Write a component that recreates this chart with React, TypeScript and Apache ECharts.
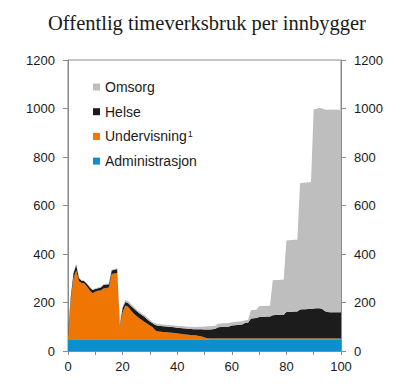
import React, { useEffect, useRef } from "react";
import * as echarts from "echarts";

const ages: string[] = [
  "0", "1", "2", "3", "4", "5", "6", "7", "8", "9", "10", "11", "12", "13", "14", "15", "16", "17", "18", "19",
  "20", "21", "22", "23", "24", "25", "26", "27", "28", "29", "30", "31", "32", "33", "34", "35", "36", "37", "38", "39",
  "40", "41", "42", "43", "44", "45", "46", "47", "48", "49", "50", "51", "52", "53", "54", "55", "56", "57", "58", "59",
  "60", "61", "62", "63", "64", "65", "66", "67", "68", "69", "70", "71", "72", "73", "74", "75", "76", "77", "78", "79",
  "80", "81", "82", "83", "84", "85", "86", "87", "88", "89", "90", "91", "92", "93", "94", "95", "96", "97", "98", "99", "100",
];

const administrasjon: number[] = [
  48, 48, 48, 48, 48, 48, 48, 48, 48, 48, 48, 48, 48, 48, 48, 48, 48, 48, 48, 48,
  48, 48, 48, 48, 48, 48, 48, 48, 48, 48, 48, 48, 48, 48, 48, 48, 48, 48, 48, 48,
  48, 48, 48, 48, 48, 48, 48, 48, 48, 48, 48, 48, 48, 48, 48, 48, 48, 48, 48, 48,
  48, 48, 48, 48, 48, 48, 48, 48, 48, 48, 48, 48, 48, 48, 48, 48, 48, 48, 48, 48,
  48, 48, 48, 48, 48, 48, 48, 48, 48, 48, 48, 48, 48, 48, 48, 48, 48, 48, 48, 48, 48,
];

const undervisning: number[] = [
  10, 157, 252, 284, 240, 232, 230, 217, 202, 190, 196, 200, 202, 210, 212, 214, 270, 272, 274, 52,
  112, 140, 134, 120, 107, 97, 88, 80, 72, 64, 57, 50, 37, 32, 31, 30, 29, 28, 27, 26,
  24, 23, 22, 20, 19, 18, 17, 16, 14, 12, 8, 5, 4, 4, 4, 4, 4, 4, 4, 4,
  4, 4, 4, 4, 4, 4, 4, 4, 4, 4, 4, 4, 4, 4, 4, 4, 4, 4, 4, 4,
  4, 4, 4, 4, 4, 4, 4, 4, 4, 4, 4, 4, 4, 4, 4, 4, 4, 4, 4, 4, 4,
];

const helse: number[] = [
  14, 17, 20, 24, 12, 10, 10, 11, 12, 14, 12, 11, 12, 14, 14, 13, 14, 15, 16, 7,
  18, 14, 16, 19, 21, 21, 21, 20, 21, 19, 17, 16, 22, 24, 24, 24, 24, 24, 24, 24,
  24, 24, 24, 25, 25, 25, 25, 26, 28, 30, 33, 36, 37, 38, 40, 46, 47, 48, 48, 49,
  53, 54, 55, 56, 58, 64, 66, 82, 83, 84, 88, 89, 89, 90, 90, 95, 96, 96, 97, 97,
  109, 110, 110, 111, 111, 119, 120, 120, 121, 121, 123, 124, 124, 122, 113, 109, 108, 108, 108, 108, 108,
];

const omsorg: number[] = [
  3, 3, 3, 3, 3, 3, 3, 3, 3, 3, 3, 3, 3, 3, 3, 3, 3, 3, 3, 3,
  6, 8, 8, 8, 7, 7, 7, 7, 7, 7, 7, 6, 7, 7, 7, 7, 7, 7, 7, 7,
  8, 8, 8, 8, 8, 9, 9, 9, 10, 10, 12, 13, 13, 13, 13, 14, 14, 14, 14, 14,
  14, 14, 14, 14, 14, 11, 11, 34, 34, 34, 45, 45, 45, 45, 45, 145, 145, 145, 145, 145,
  295, 295, 296, 296, 296, 521, 522, 523, 523, 523, 822, 823, 826, 827, 831, 834, 836, 835, 836, 835, 835,
];

const yTicks = { min: 0, max: 1200, interval: 200 };
const xTickEvery = 10;
const xLabelEvery = 20;

const SANS = '"Liberation Sans", Arial, Helvetica, sans-serif';
const SERIF = '"Liberation Serif", "Times New Roman", Times, serif';

export default function App() {
  const ref = useRef<HTMLDivElement>(null);

  useEffect(() => {
    if (!ref.current) return;
    const chart = echarts.init(ref.current, undefined, { renderer: "svg" });

    const axisColor = "#8a8a8a";
    const textColor = "#1a1a1a";

    const mk = (name: string, vals: number[], color: string) => ({
      name,
      type: "line",
      stack: "total",
      data: vals,
      showSymbol: false,
      symbol: "none",
      smooth: false,
      lineStyle: { width: 0, color },
      itemStyle: { color },
      areaStyle: { color, opacity: 1 },
      emphasis: { disabled: true },
    });

    const yAxisBase = {
      type: "value",
      min: yTicks.min,
      max: yTicks.max,
      interval: yTicks.interval,
      splitLine: { show: false },
      axisLine: { show: true, lineStyle: { color: axisColor, width: 1 } },
      axisTick: { show: true, inside: false, length: 5, lineStyle: { color: axisColor } },
      axisLabel: {
        color: textColor,
        fontSize: 13,
        fontFamily: SANS,
        margin: 13,
        formatter: (v: number) => String(v),
      },
    };

    chart.setOption({
      animation: false,
      backgroundColor: "#ffffff",
      graphic: [
        {
          type: "text",
          x: 207,
          y: 12,
          style: {
            text: "Offentlig timeverksbruk per innbygger",
            fontFamily: SERIF,
            fontSize: 20.5,
            fill: textColor,
            textAlign: "center",
            textVerticalAlign: "top",
          },
        },
      ],
      grid: {
        left: 68,
        right: 59,
        top: 60,
        bottom: 37,
        show: true,
        borderColor: axisColor,
        borderWidth: 1,
        backgroundColor: "transparent",
        containLabel: false,
      },
      legend: {
        orient: "vertical",
        left: 88,
        top: 75,
        itemWidth: 7,
        itemHeight: 7,
        itemGap: 10.7,
        icon: "rect",
        selectedMode: false,
        data: ["Omsorg", "Helse", "Undervisning", "Administrasjon"],
        formatter: (name: string) =>
          name === "Undervisning" ? "{b|Undervisning}{s|1}" : name,
        textStyle: {
          color: textColor,
          fontSize: 14,
          fontFamily: SANS,
          lineHeight: 14,
          rich: {
            b: { fontSize: 14, fontFamily: SANS, color: textColor, lineHeight: 14 },
            s: {
              fontSize: 9,
              fontFamily: SANS,
              color: textColor,
              verticalAlign: "top",
              lineHeight: 9,
              padding: [0, 0, 0, 1],
            },
          },
        },
      },
      xAxis: {
        type: "category",
        data: ages,
        boundaryGap: false,
        splitLine: { show: false },
        axisLine: { show: true, onZero: false, lineStyle: { color: axisColor } },
        axisTick: {
          show: true,
          length: 4,
          interval: xTickEvery - 1,
          lineStyle: { color: axisColor },
        },
        axisLabel: {
          color: textColor,
          fontSize: 13,
          fontFamily: SANS,
          margin: 9,
          interval: xLabelEvery - 1,
        },
      },
      yAxis: [
        { ...yAxisBase, position: "left" },
        { ...yAxisBase, position: "right" },
      ],
      series: [
        mk("Administrasjon", administrasjon, "#0a8fd0"),
        mk("Undervisning", undervisning, "#ef7602"),
        mk("Helse", helse, "#1c1c1c"),
        mk("Omsorg", omsorg, "#bebebe"),
      ],
    });

    return () => chart.dispose();
  }, []);

  return (
    <div
      ref={ref}
      style={{ position: "fixed", left: 0, top: 0, width: 400, height: 388, background: "#fff" }}
    />
  );
}
